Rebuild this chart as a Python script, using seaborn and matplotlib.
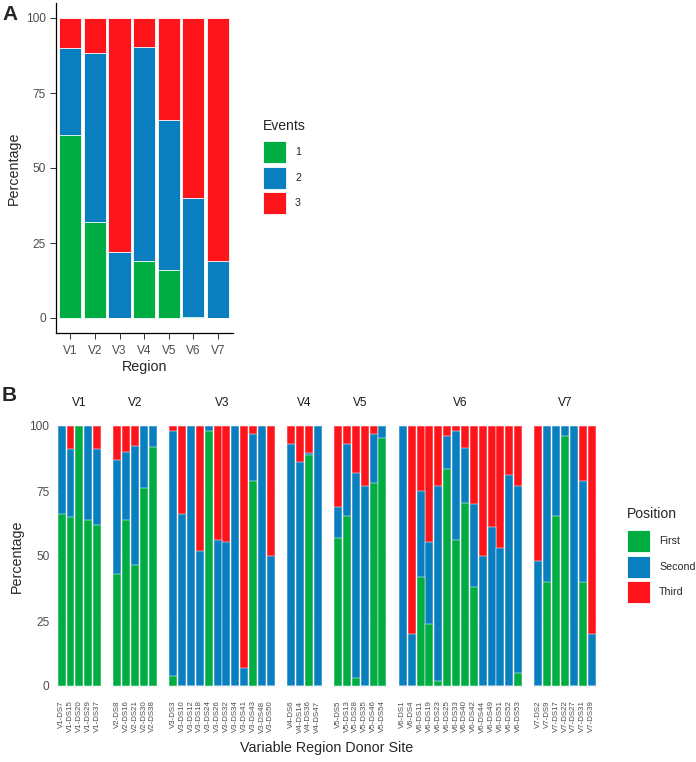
import numpy as np
import pandas as pd
import matplotlib.pyplot as plt
import seaborn as sns

sns.set_style("white")
plt.rcParams['font.family'] = ['Liberation Sans', 'DejaVu Sans']

# ---------------- data ----------------
# panel A : share of events per region
regions = ["V1", "V2", "V3", "V4", "V5", "V6", "V7"]
events_1 = [61, 32, 0, 19, 16, 0.5, 0]
events_2 = [29, 56.5, 22, 71.5, 50, 39.5, 19]
events_3 = [10, 11.5, 78, 9.5, 34, 60, 81]

# panel B : position per donor site
site_region = (["V1"] * 5 + ["V2"] * 5 + ["V3"] * 12 + ["V4"] * 4
               + ["V5"] * 6 + ["V6"] * 14 + ["V7"] * 7)
site_names = ["DS7", "DS15", "DS20", "DS29", "DS37",
              "DS8", "DS16", "DS21", "DS30", "DS38",
              "DS3", "DS10", "DS12", "DS18", "DS24", "DS26", "DS32", "DS34", "DS41", "DS43", "DS48", "DS50",
              "DS6", "DS14", "DS36", "DS47",
              "DS5", "DS13", "DS28", "DS35", "DS46", "DS54",
              "DS1", "DS4", "DS11", "DS19", "DS23", "DS25", "DS33", "DS40", "DS42", "DS44", "DS49", "DS51", "DS52", "DS53",
              "DS2", "DS9", "DS17", "DS22", "DS27", "DS31", "DS39"]
pos_first = [66, 65, 100, 64, 62,
             43, 64, 46.5, 76, 92,
             4, 0, 0, 0, 98, 0, 0, 0, 0, 79, 0, 0,
             0, 0, 89, 0,
             57, 65.5, 3, 0, 78, 95.5,
             0, 0, 42, 24, 2, 83.5, 56, 70.5, 38, 0, 0, 0, 0, 5,
             0, 40, 65.5, 96, 0, 40, 0]
pos_second = [34, 26, 0, 36, 29,
              44, 26, 46, 24, 8,
              94, 66, 100, 52, 2, 56, 55.5, 100, 7, 18, 100, 50,
              93, 86, 0.5, 100,
              12, 27.5, 79, 77, 19, 4.5,
              100, 20, 33, 31.5, 75, 12.5, 42, 21, 32, 50, 61, 53, 81, 72,
              48, 60, 34.5, 4, 100, 39, 20]
pos_third = [0, 9, 0, 0, 9,
             13, 10, 7.5, 0, 0,
             2, 34, 0, 48, 0, 44, 44.5, 0, 93, 3, 0, 50,
             7, 14, 10.5, 0,
             31, 7, 18, 23, 3, 0,
             0, 80, 25, 44.5, 23, 4, 2, 8.5, 30, 50, 39, 47, 19, 23,
             52, 0, 0, 0, 0, 21, 80]

green = "#00AD43"
blue = "#0A7FBF"
red = "#FD151B"
grey_txt = "#4D4D4D"

W, H = 696, 762
fig = plt.figure(figsize=(W / 100, H / 100), dpi=100)


def px_axes(x0, y0, x1, y1):
    # axes from pixel box (top-left origin)
    return fig.add_axes([x0 / W, 1 - y1 / H, (x1 - x0) / W, (y1 - y0) / H])


def stack(ax, labels, a, b, c, lw):
    a = np.array(a, dtype=float)
    b = np.array(b, dtype=float)
    c = np.array(c, dtype=float)
    for vals, col in [(a + b + c, red), (a + b, blue), (a, green)]:
        sns.barplot(x=labels, y=vals, order=labels, color=col, saturation=1,
                    width=0.9, edgecolor="white", linewidth=lw, ax=ax)
    ax.set_xlim(-0.6, len(labels) - 0.4)
    ax.set_ylim(-5, 105)
    ax.set_yticks([0, 25, 50, 75, 100])


def add_legend(labels, title, x0, y_title, y_keys):
    fig.text(x0 / W, 1 - y_title / H, title, fontsize=10.1, ha="left", va="center")
    leg = fig.legend(handles=[plt.Rectangle((0, 0), 1, 1, fc=c, ec="white", lw=0.6)
                              for c in (green, blue, red)],
                     labels=labels, loc="upper left",
                     bbox_to_anchor=(x0 / W, 1 - y_keys / H), frameon=False,
                     borderpad=0, borderaxespad=0,
                     fontsize=7.7, handlelength=2.15,
                     handleheight=2.79, labelspacing=0.33, handletextpad=0.85)
    return leg


# ---------------- panel A ----------------
axA = px_axes(55.6, 3, 232.7, 333)
stack(axA, regions, events_1, events_2, events_3, 0.6)
for s in ["top", "right"]:
    axA.spines[s].set_visible(False)
for s in ["left", "bottom"]:
    axA.spines[s].set_color("black")
    axA.spines[s].set_linewidth(0.9)
axA.tick_params(axis="both", length=4.5, width=0.7, color="#333333",
                labelcolor=grey_txt, labelsize=8.6, pad=2.5, left=True, bottom=True)
axA.tick_params(axis="x", pad=4)
axA.set_xlabel("Region", fontsize=10.3, labelpad=2)
axA.set_ylabel("Percentage", fontsize=10.3, labelpad=4)

add_legend(["1", "2", "3"], "Events", 263, 126, 141)

fig.text(2 / W, 1 - 15 / H, "A", fontsize=15, fontweight="bold", va="center")

# ---------------- panel B ----------------
df = pd.DataFrame({"region": site_region, "site": site_names,
                   "first": pos_first, "second": pos_second, "third": pos_third})
df["label"] = df["region"] + "-" + df["site"]

u = 8.87
gap = 9.7
x = 56.3
for i, reg in enumerate(regions):
    sub = df[df["region"] == reg]
    w = (len(sub) + 0.2) * u
    ax = px_axes(x, 413, x + w, 699)
    ax.set_axisbelow(True)
    ax.grid(True, color="#EBEBEB", linewidth=0.8)
    stack(ax, list(sub["label"]), sub["first"], sub["second"], sub["third"], 0.35)
    for s in ax.spines.values():
        s.set_visible(False)
    ax.tick_params(axis="x", length=0, labelsize=5.7, labelcolor=grey_txt, pad=1)
    ax.tick_params(axis="y", length=0, labelsize=8.6, labelcolor=grey_txt, pad=5)
    for t in ax.get_xticklabels():
        t.set_rotation(90)
        t.set_va("top")
    ax.set_xlabel("")
    if i > 0:
        ax.set_yticklabels([])
    else:
        ax.set_ylabel("Percentage", fontsize=10.3, labelpad=4)
    ax.set_title(reg, fontsize=8.6, color="#1A1A1A", pad=5)
    x += w + gap

fig.text((56.3 + 597) / 2 / W, 1 - 748 / H, "Variable Region Donor Site",
         fontsize=10.3, ha="center", va="center")

add_legend(["First", "Second", "Third"], "Position", 627, 514, 530)

fig.text(2 / W, 1 - 395 / H, "B", fontsize=15, fontweight="bold", va="center")

fig.savefig("out.png", dpi=100)
